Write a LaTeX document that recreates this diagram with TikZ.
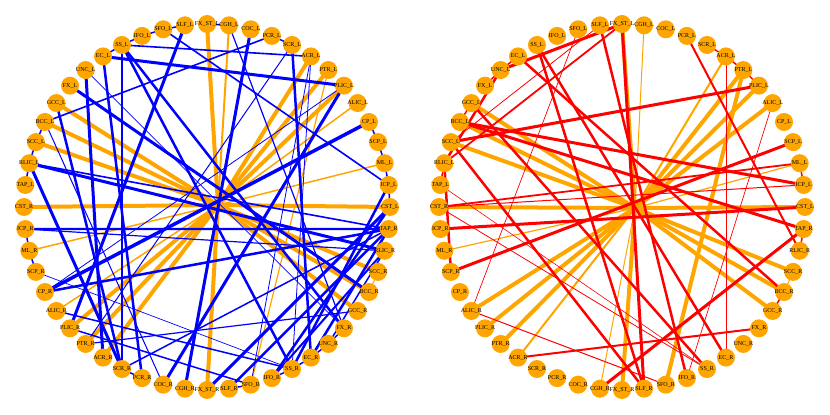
\documentclass[tikz,border=0pt]{standalone}
\usepackage{fontspec}
\setmainfont{Liberation Serif}
\usetikzlibrary{calc,backgrounds}
\definecolor{orgc}{HTML}{FFA500}
\definecolor{bl}{HTML}{0000FF}
\definecolor{rd}{HTML}{FF0000}
\begin{document}
\begin{tikzpicture}[x=1pt,y=1pt,
  vert/.style={circle,fill=orgc,inner sep=0pt,minimum size=18pt},
  lab/.style={font=\fontsize{6}{7}\selectfont,text=black,inner sep=0pt},
  bedge/.style={bl,line cap=butt},
  redge/.style={rd,line cap=butt},
  oedge/.style={orgc,line join=round}]
\useasboundingbox (0,0) rectangle (830,415);
\foreach \n/\t [count=\i from 0] in {FXSTL/FX\_ST\_L,CGHL/CGH\_L,COCL/COC\_L,PCRL/PCR\_L,SCRL/SCR\_L,ACRL/ACR\_L,PTRL/PTR\_L,PLICL/PLIC\_L,ALICL/ALIC\_L,CPL/CP\_L,SCPL/SCP\_L,MLL/ML\_L,ICPL/ICP\_L,CSTL/CST\_L,TAPR/TAP\_R,RLICR/RLIC\_R,SCCR/SCC\_R,BCCR/BCC\_R,GCCR/GCC\_R,FXR/FX\_R,UNCR/UNC\_R,ECR/EC\_R,SSR/SS\_R,IFOR/IFO\_R,SFOR/SFO\_R,SLFR/SLF\_R,FXSTR/FX\_ST\_R,CGHR/CGH\_R,COCR/COC\_R,PCRR/PCR\_R,SCRR/SCR\_R,ACRR/ACR\_R,PTRR/PTR\_R,PLICR/PLIC\_R,ALICR/ALIC\_R,CPR/CP\_R,SCPR/SCP\_R,MLR/ML\_R,ICPR/ICP\_R,CSTR/CST\_R,TAPL/TAP\_L,RLICL/RLIC\_L,SCCL/SCC\_L,BCCL/BCC\_L,GCCL/GCC\_L,FXL/FX\_L,UNCL/UNC\_L,ECL/EC\_L,SSL/SS\_L,IFOL/IFO\_L,SFOL/SFO\_L,SLFL/SLF\_L} {
  \node[vert,label={[lab]center:\t}] (a\n) at ($(207,208)+({90-\i*6.9230769}:183)$) {};
  \node[vert,label={[lab]center:\t}] (b\n) at ($(622,208)+({90-\i*6.9230769}:183)$) {};
}
\coordinate (ha) at (218,210);
\coordinate (hb) at (635,207);
\begin{scope}[on background layer]
% ---------- left graph: orange ----------
\foreach \u/\v/\w in {FXSTL/FXSTR/4,CGHL/CGHR/2,ACRL/ACRR/4,PTRL/PTRR/4,PLICL/PLICR/4,ALICL/ALICR/1.5,MLL/MLR/1.5,CSTL/CSTR/4,SCCL/SCCR/4,BCCL/BCCR/4,GCCL/GCCR/4}
  \draw[oedge,line width=\w] (a\u.center) -- (ha) -- (a\v.center);
\draw[oedge,line width=1.2] (aSFOR.center) -- (aPTRL.center);
\draw[oedge,line width=1] (aSCCR.center) -- (aBCCR.center);
% ---------- left graph: blue ----------
\foreach \u/\v/\w in {SSL/ACRL/1.6,ECL/PLICL/3,BCCL/PCRL/1.6,SLFL/PLICR/3,SFOL/ICPL/1.6,UNCL/FXR/0.8,FXL/BCCR/3,UNCL/ACRR/3,CGHL/FXR/1.2,COCL/CGHR/3,SCRL/PTRR/1,SCRL/ECR/2.5,ACRL/SSR/0.8,ACRL/SFOR/0.8,PLICL/CPR/0.8,CPL/CPR/3.5,RLICL/RLICR/3,RLICL/SCRR/3,ICPR/TAPR/2.2,CPR/TAPR/2.5,SCPR/SSR/0.7,ALICR/SSR/1.5,PLICR/SFOR/1.5,SSL/SSR/2.5,SSL/SCRR/2.2,ECL/PCRR/2.5,COCR/PLICL/3,FXSTR/CSTL/3,SLFR/TAPR/2.5,ICPL/SSR/2.5,CSTL/IFOR/2.5,TAPR/ECR/2.5,RLICR/UNCR/1.5,BCCL/COCR/1,SCRR/GCCL/2.5,RLICL/TAPR/1.6,SCRR/TAPR/1.5,ICPR/RLICR/1.2,SSL/FXR/2.5,PTRR/GCCR/1.2,IFOR/RLICR/2}
  \draw[bedge,line width=\w] (a\u.center) -- (a\v.center);
\foreach \u/\v in {SSL/IFOL,IFOL/SFOL,SFOL/SLFL,ECL/SSL,BCCL/SCCL,SCCL/RLICL,RLICL/TAPL,CPL/SCPL,SCPL/MLL,MLL/ICPL,ICPL/CSTL,ICPR/MLR,MLR/SCPR,SCRR/PCRR,IFOR/SSR,ECR/UNCR,UNCR/FXR,PCRL/SCRL,FXSTL/CGHL,SSR/ECR,SLFR/SFOR}
  \draw[bedge,line width=1.5] (a\u.center) -- (a\v.center);
% ---------- right graph: orange ----------
\foreach \u/\v/\w in {FXSTL/FXSTR/4,CGHL/CGHR/1,ACRL/ACRR/2,PTRL/PTRR/4,PLICL/PLICR/4,ALICL/ALICR/4,MLL/MLR/1.2,CSTL/CSTR/4,SCCL/SCCR/4,BCCL/BCCR/4,GCCL/GCCR/4}
  \draw[oedge,line width=\w] (b\u.center) -- (hb) -- (b\v.center);
\draw[oedge,line width=4] (bSFOR.center) -- (bPTRL.center);
\draw[oedge,line width=1] (bSCCR.center) -- (bBCCR.center);
% ---------- right graph: red ----------
\foreach \u/\v/\w in {FXSTL/UNCL/3,FXSTL/RLICL/1.8,SFOL/ALICR/0.7,FXSTL/SLFR/3,SSL/SLFR/2.5,ECL/BCCR/2.5,BCCL/ICPL/3,SCCL/PLICL/3,UNCL/RLICL/2.5,RLICL/SCPR/2.5,ICPR/CSTL/3,SCPR/SCPL/3,CSTR/SSR/0.8,CSTR/ICPL/1,ACRR/FXR/2,CGHR/TAPR/3,SSL/ECR/2.5,PCRL/RLICR/2,BCCL/TAPR/3,GCCL/SSR/2.5,ALICR/SFOR/1,ACRL/ECR/0.8,ALICL/IFOR/0.7,SCCL/SLFR/2.5,SLFL/SCCL/0.8,CSTR/MLL/1.8,SLFL/IFOR/2.5,TAPL/SSR/0.6}
  \draw[redge,line width=\w] (b\u.center) -- (b\v.center);
\foreach \u/\v in {SCRL/ACRL,ACRL/PTRL,PTRL/PLICL,MLL/ICPL,FXL/UNCL,UNCL/ECL,RLICL/TAPL,BCCR/GCCR,TAPR/RLICR,GCCL/BCCL}
  \draw[redge,line width=1.5] (b\u.center) -- (b\v.center);
\end{scope}
\end{tikzpicture}
\end{document}
